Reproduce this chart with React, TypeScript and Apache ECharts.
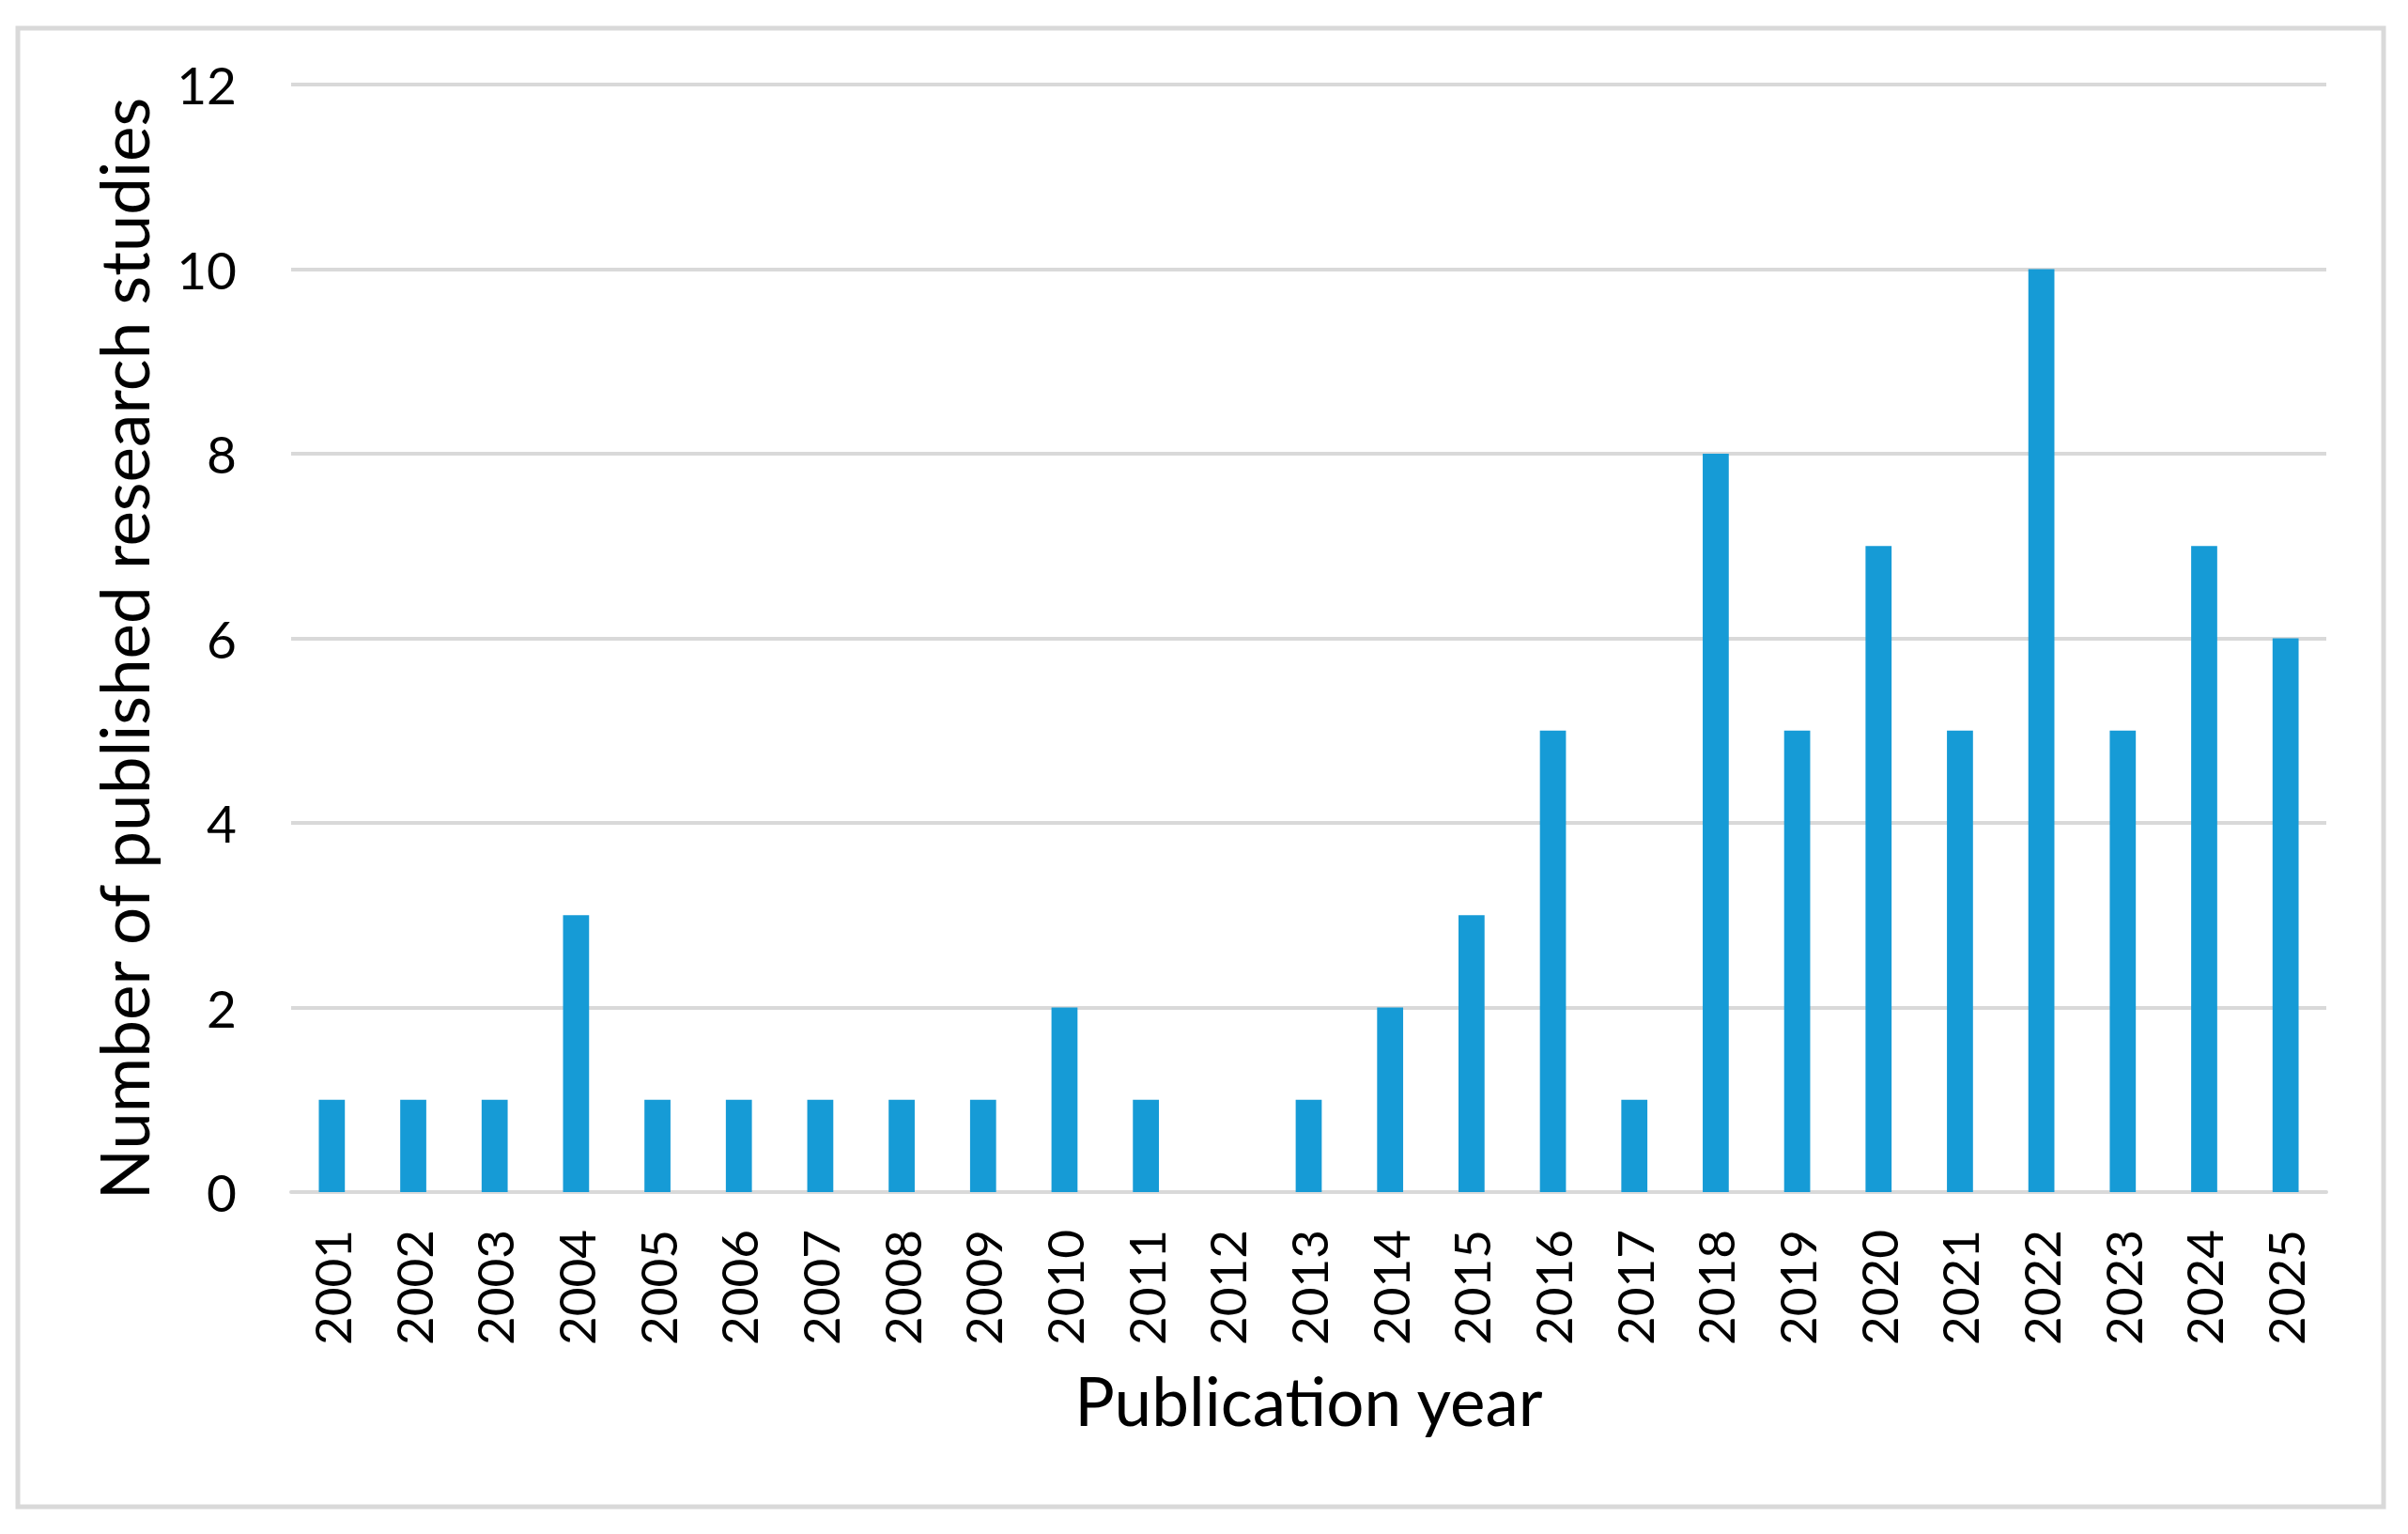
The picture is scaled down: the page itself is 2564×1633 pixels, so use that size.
import React, { useEffect, useRef } from "react";
import * as echarts from "echarts";

const years = [
  "2001", "2002", "2003", "2004", "2005", "2006", "2007", "2008", "2009", "2010",
  "2011", "2012", "2013", "2014", "2015", "2016", "2017", "2018", "2019", "2020",
  "2021", "2022", "2023", "2024", "2025",
];
const studies = [1, 1, 1, 3, 1, 1, 1, 1, 1, 2, 1, 0, 1, 2, 3, 5, 1, 8, 5, 7, 5, 10, 5, 7, 6];
const yTicks = { min: 0, max: 12, interval: 2 };
const xTitle = "Publication year";
const yTitle = "Number of published research studies";

const FONT = "Lato, 'Noto Sans', sans-serif";
const GRID_COLOR = "#d9d9d9";
const BAR_COLOR = "#169bd6";

export default function App() {
  const ref = useRef<HTMLDivElement>(null);
  useEffect(() => {
    if (!ref.current) return;
    const chart = echarts.init(ref.current, undefined, { renderer: "svg" });
    chart.setOption({
      animation: false,
      backgroundColor: "#ffffff",
      textStyle: { fontFamily: FONT },
      graphic: [
        {
          type: "rect",
          shape: { x: 19, y: 30, width: 2519, height: 1574 },
          style: { fill: "none", stroke: GRID_COLOR, lineWidth: 5 },
          silent: true,
        },
      ],
      grid: { left: 310, right: 87, top: 90, bottom: 364, containLabel: false },
      xAxis: {
        type: "category",
        data: years,
        name: xTitle,
        nameLocation: "middle",
        nameGap: 186,
        nameTextStyle: { fontSize: 71, color: "#000", fontFamily: FONT },
        axisLine: { show: true, lineStyle: { color: GRID_COLOR, width: 4 } },
        axisTick: { show: false },
        axisLabel: {
          rotate: 90,
          margin: 40,
          fontSize: 53,
          color: "#000",
          fontFamily: FONT,
          interval: 0,
        },
      },
      yAxis: {
        type: "value",
        min: yTicks.min,
        max: yTicks.max,
        interval: yTicks.interval,
        name: yTitle,
        nameLocation: "middle",
        nameGap: 143,
        nameTextStyle: { fontSize: 71, color: "#000", fontFamily: FONT, padding: [0, 22, 0, 0] },
        axisLine: { show: false },
        axisTick: { show: false },
        axisLabel: { margin: 58, fontSize: 55, color: "#000", fontFamily: FONT },
        splitLine: { show: true, lineStyle: { color: GRID_COLOR, width: 4 } },
      },
      series: [
        {
          type: "bar",
          data: studies,
          barWidth: "32%",
          itemStyle: { color: BAR_COLOR },
        },
      ],
    });
    return () => chart.dispose();
  }, []);
  return (
    <div
      ref={ref}
      style={{ position: "fixed", left: 0, top: 0, width: 2564, height: 1633, background: "#fff" }}
    />
  );
}
